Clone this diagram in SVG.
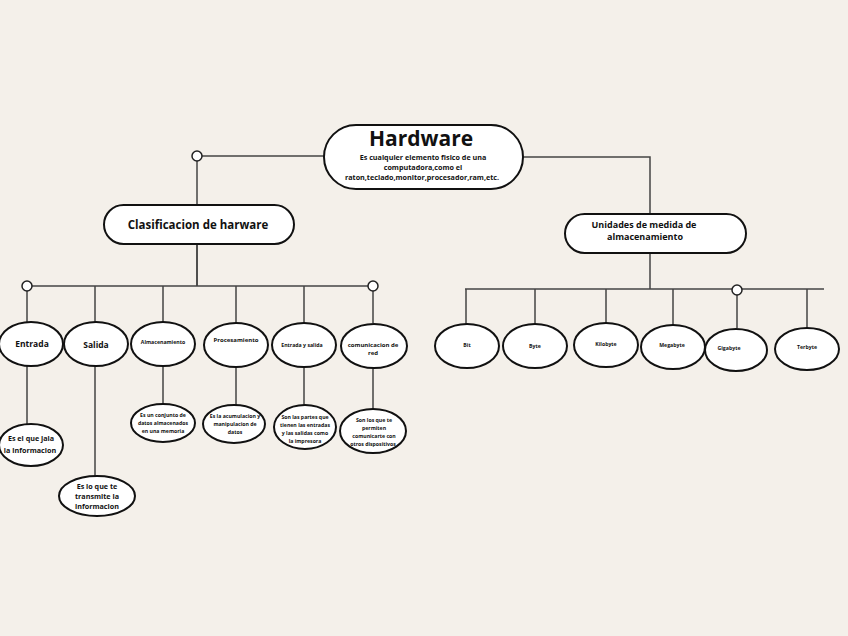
<svg xmlns="http://www.w3.org/2000/svg" width="848" height="636" viewBox="0 0 848 636">
<style>
text{font-family:"Open Sans","Noto Sans","DejaVu Sans",sans-serif;font-weight:bold;fill:#111;text-anchor:middle}
.n{fill:#fff;stroke:#111;stroke-width:2}
.e{stroke:#444;stroke-width:1.5;fill:none}
.c{fill:#fff;stroke:#222;stroke-width:1.5}
.s5{font-size:5.2px}
.s6{font-size:6px}
</style>
<rect width="848" height="636" fill="#f4f0ea"/>
<g id="connectors">
<path class="e" d="M324 156H197V286"/>
<path class="e" d="M197 244V286"/>
<path class="e" d="M27 286H373"/>
<path class="e" d="M27 286V323M95 286V323M163 286V323M236 286V323M304 286V323M373 286V323"/>
<path class="e" d="M27 365V425M95 366V477M163 367V405M236 367V405M304 367V405M373 368V410"/>
<path class="e" d="M523 157H650V215"/>
<path class="e" d="M650 253V289"/>
<path class="e" d="M465 289H824"/>
<path class="e" d="M466 289V324M535 289V324M606 289V324M673 289V325M737 289V328M807 289V329"/>
<circle class="c" cx="197" cy="156" r="5"/>
<circle class="c" cx="27" cy="286" r="5"/>
<circle class="c" cx="373" cy="286" r="5"/>
<circle class="c" cx="737" cy="290" r="5"/>
</g>
<g id="hardware">
<rect class="n" x="324" y="125" width="199" height="64" rx="32"/>
<text x="421" y="146" style="font-size:21px">Hardware</text>
<text x="423" y="160" style="font-size:7.2px">Es cualquier elemento fisico de una</text>
<text x="423" y="170" style="font-size:7.2px">computadora,como el</text>
<text x="422" y="180" style="font-size:7.2px">raton,teclado,monitor,procesador,ram,etc.</text>
</g>
<g id="clasificacion">
<rect class="n" x="104" y="205" width="190" height="39" rx="19.5"/>
<text x="198" y="229" style="font-size:11.5px">Clasificacion de harware</text>
</g>
<g id="unidades">
<rect class="n" x="565" y="214" width="181" height="39" rx="19.5"/>
<text x="644" y="228" style="font-size:9px">Unidades de medida de</text>
<text x="645" y="240" style="font-size:9px">almacenamiento</text>
</g>
<g id="entrada">
<ellipse class="n" cx="31" cy="344" rx="32" ry="22"/>
<text x="32" y="347" style="font-size:8.5px">Entrada</text>
</g>
<g id="salida">
<ellipse class="n" cx="96" cy="344" rx="32" ry="22"/>
<text x="96" y="348" style="font-size:8.5px">Salida</text>
</g>
<g id="almacenamiento">
<ellipse class="n" cx="163" cy="344" rx="32" ry="22"/>
<text x="163" y="344" class="s5">Almacenamiento</text>
</g>
<g id="procesamiento">
<ellipse class="n" cx="236" cy="345" rx="32" ry="22"/>
<text x="236" y="342" class="s6">Procesamiento</text>
</g>
<g id="entradaysalida">
<ellipse class="n" cx="304" cy="345" rx="32" ry="22"/>
<text x="302" y="347" class="s5">Entrada y salida</text>
</g>
<g id="comunicacion">
<ellipse class="n" cx="374" cy="346" rx="33" ry="22"/>
<text x="373" y="347" class="s6">comunicacion de</text>
<text x="373" y="355" class="s6">red</text>
</g>
<g id="entrada-desc">
<ellipse class="n" cx="31" cy="445" rx="32" ry="21"/>
<text x="31" y="441" style="font-size:7.2px">Es el que jala</text>
<text x="30" y="453" style="font-size:7.2px">la informacion</text>
</g>
<g id="salida-desc">
<ellipse class="n" cx="97" cy="496" rx="38" ry="20"/>
<text x="97" y="489" style="font-size:7.2px">Es lo que te</text>
<text x="97" y="499" style="font-size:7.2px">transmite la</text>
<text x="97" y="509" style="font-size:7.2px">informacion</text>
</g>
<g id="almacenamiento-desc">
<ellipse class="n" cx="163" cy="423" rx="32" ry="19"/>
<text x="163" y="417" class="s5">Es un conjunto de</text>
<text x="163" y="425" class="s5">datos almacenados</text>
<text x="163" y="433" class="s5">en una memoria</text>
</g>
<g id="procesamiento-desc">
<ellipse class="n" cx="234" cy="424" rx="31" ry="19"/>
<text x="235" y="418" class="s5">Es la acumulacion y</text>
<text x="235" y="426" class="s5">manipulacion de</text>
<text x="235" y="434" class="s5">datos</text>
</g>
<g id="entradaysalida-desc">
<ellipse class="n" cx="305" cy="427" rx="31" ry="22"/>
<text x="305" y="419" class="s5">Son las partes que</text>
<text x="305" y="427" class="s5">tienen las entradas</text>
<text x="305" y="435" class="s5">y las salidas como</text>
<text x="305" y="443" class="s5">la impresora</text>
</g>
<g id="comunicacion-desc">
<ellipse class="n" cx="373" cy="431" rx="33" ry="22"/>
<text x="374" y="422" class="s5">Son los que te</text>
<text x="374" y="430" class="s5">permiten</text>
<text x="374" y="438" class="s5">comunicarte con</text>
<text x="373" y="446" class="s5">otros dispositivos</text>
</g>
<g id="bit">
<ellipse class="n" cx="467" cy="346" rx="32" ry="22"/>
<text x="467" y="347" class="s5">Bit</text>
</g>
<g id="byte">
<ellipse class="n" cx="535" cy="346" rx="32" ry="22"/>
<text x="535" y="348" class="s5">Byte</text>
</g>
<g id="kilobyte">
<ellipse class="n" cx="606" cy="345" rx="32" ry="22"/>
<text x="606" y="346" class="s5">Kilobyte</text>
</g>
<g id="megabyte">
<ellipse class="n" cx="673" cy="347" rx="32" ry="22"/>
<text x="672" y="347" class="s5">Megabyte</text>
</g>
<g id="gigabyte">
<ellipse class="n" cx="736" cy="350" rx="31" ry="21"/>
<text x="729" y="350" class="s5">Gigabyte</text>
</g>
<g id="terbyte">
<ellipse class="n" cx="807" cy="349" rx="32" ry="21"/>
<text x="807" y="349" class="s5">Terbyte</text>
</g>
</svg>
